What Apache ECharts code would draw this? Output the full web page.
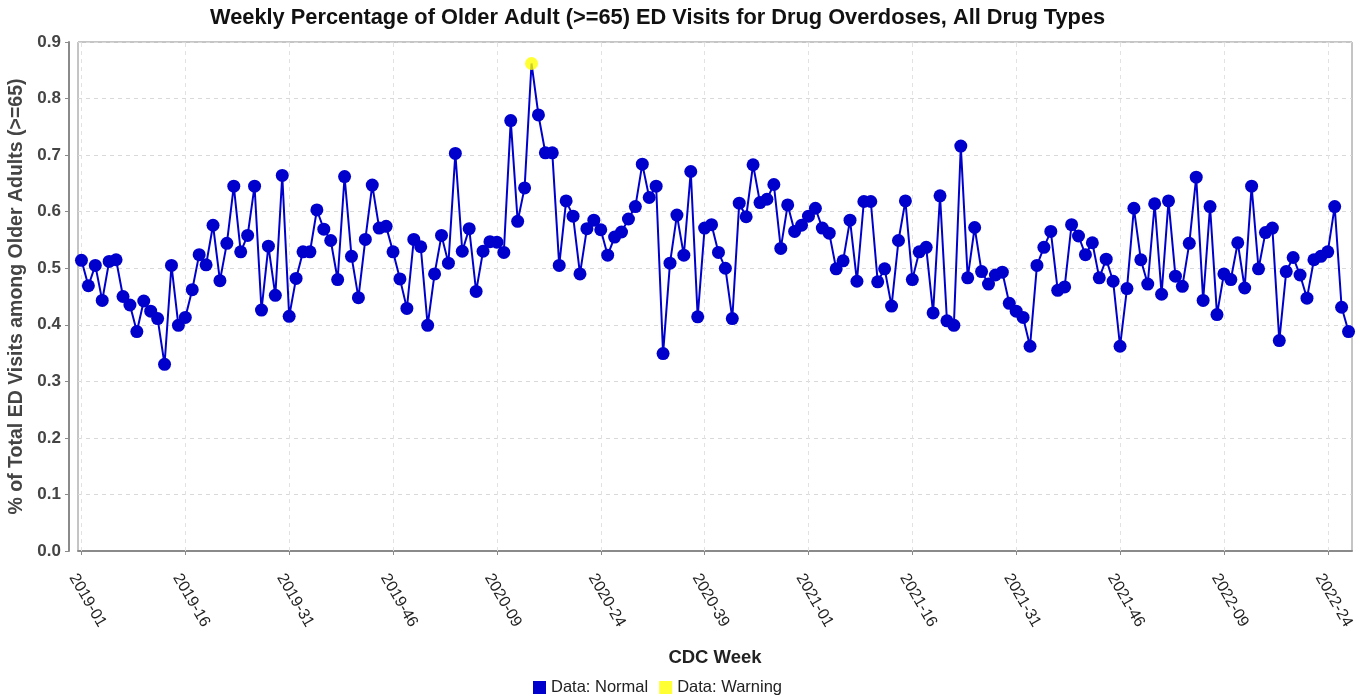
<!DOCTYPE html>
<html>
<head>
<meta charset="utf-8">
<script src="https://cdn.jsdelivr.net/npm/echarts@6/dist/echarts.min.js"></script>
<style>
  html, body { margin: 0; padding: 0; background: #ffffff; }
  #chart { width: 1366px; height: 698px; }
</style>
</head>
<body>
<div id="chart"></div>
<script>
// CDC weeks shown per year (2022 runs through week 27)
const weeksShown = [[2019, 52], [2020, 53], [2021, 52], [2022, 27]];

// Weekly % of ED visits among adults 65+ for drug overdoses (all drug types)
const values2019 = [
  0.514, 0.469, 0.505, 0.443, 0.512, 0.515, 0.450, 0.435, 0.388, 0.442,
  0.424, 0.411, 0.330, 0.505, 0.399, 0.413, 0.462, 0.524, 0.506, 0.576,
  0.478, 0.544, 0.645, 0.529, 0.558, 0.645, 0.426, 0.539, 0.452, 0.664,
  0.415, 0.482, 0.529, 0.529, 0.603, 0.569, 0.549, 0.480, 0.662, 0.521,
  0.448, 0.551, 0.647, 0.571, 0.574, 0.529, 0.481, 0.429, 0.551, 0.538,
  0.399, 0.490
];
const values2020 = [
  0.558, 0.509, 0.703, 0.530, 0.570, 0.459, 0.530, 0.547, 0.546, 0.528,
  0.761, 0.583, 0.642, 0.862, 0.771, 0.704, 0.704, 0.505, 0.619, 0.592,
  0.490, 0.570, 0.585, 0.568, 0.523, 0.555, 0.564, 0.587, 0.609, 0.684,
  0.625, 0.645, 0.349, 0.509, 0.594, 0.523, 0.671, 0.414, 0.571, 0.577,
  0.528, 0.500, 0.411, 0.615, 0.591, 0.683, 0.616, 0.622, 0.648, 0.535,
  0.612, 0.565, 0.576
];
const values2021 = [
  0.592, 0.606, 0.571, 0.562, 0.499, 0.513, 0.585, 0.477, 0.618, 0.618,
  0.476, 0.499, 0.433, 0.549, 0.619, 0.480, 0.529, 0.537, 0.421, 0.628,
  0.407, 0.399, 0.716, 0.483, 0.572, 0.494, 0.472, 0.488, 0.493, 0.438,
  0.424, 0.413, 0.362, 0.505, 0.537, 0.565, 0.461, 0.467, 0.577, 0.557,
  0.524, 0.545, 0.483, 0.516, 0.477, 0.362, 0.464, 0.606, 0.515, 0.472,
  0.614, 0.454
];
const values2022 = [
  0.619, 0.486, 0.468, 0.544, 0.661, 0.443, 0.609, 0.418, 0.490, 0.480,
  0.545, 0.465, 0.645, 0.499, 0.563, 0.571, 0.372, 0.494, 0.519, 0.488,
  0.447, 0.515, 0.521, 0.529, 0.609, 0.431, 0.388
];

// Weeks flagged as a warning
const warningWeeks = ['2020-14'];

const yTicks = [0, 0.1, 0.2, 0.3, 0.4, 0.5, 0.6, 0.7, 0.8, 0.9];

const categories = [];
weeksShown.forEach(([year, n]) => {
  for (let w = 1; w <= n; w++) categories.push(year + '-' + String(w).padStart(2, '0'));
});
const values = [].concat(values2019, values2020, values2021, values2022);

const normalData = values.map((v, i) =>
  warningWeeks.includes(categories[i]) ? { value: v, symbol: 'none' } : v);
const warningData = values.map((v, i) =>
  warningWeeks.includes(categories[i]) ? v : '-');

const LABEL_STEP = 15;
const gridLines = categories
  .filter((c, i) => i % LABEL_STEP === 0)
  .map(c => ({ xAxis: c }));

const BLUE = '#0000CD';
const YELLOW = '#FFFF00';
const FONT = '"Liberation Sans", Arial, sans-serif';

const chart = echarts.init(document.getElementById('chart'), null, { renderer: 'canvas' });
chart.setOption({
  animation: false,
  backgroundColor: '#ffffff',
  title: {
    text: 'Weekly Percentage of Older Adult (>=65) ED Visits for Drug Overdoses, All Drug Types',
    left: 210,
    top: 7,
    padding: 0,
    textStyle: { fontFamily: FONT, fontSize: 21.8, fontWeight: 'bold', color: '#111111' }
  },
  legend: {
    data: ['Data: Normal', 'Data: Warning'],
    left: 533,
    top: 679,
    padding: 0,
    icon: 'rect',
    itemWidth: 13,
    itemHeight: 13,
    itemGap: 11,
    textStyle: { fontFamily: FONT, fontSize: 16.5, color: '#222222' }
  },
  grid: {
    left: 78, right: 14, top: 42, bottom: 147,
    outerBoundsMode: 'none',
    containLabel: false,
    show: true, borderColor: '#8a8a8a', borderWidth: 1, backgroundColor: '#ffffff'
  },
  xAxis: {
    type: 'category',
    data: categories,
    boundaryGap: true,
    offset: 8,
    name: 'CDC Week',
    nameLocation: 'middle',
    nameGap: 89,
    nameTextStyle: { fontFamily: FONT, fontSize: 18.5, fontWeight: 'bold', color: '#222222' },
    axisLine: { show: true, lineStyle: { color: '#8a8a8a', width: 2 } },
    axisTick: { show: true, interval: LABEL_STEP - 1, alignWithLabel: true, length: 4, lineStyle: { color: '#8a8a8a' } },
    axisLabel: {
      interval: LABEL_STEP - 1,
      rotate: -60,
      margin: 11,
      lineHeight: 20,
      // leading blank line drops the rotated week label below its tick
      formatter: v => '\n' + v,
      fontFamily: FONT, fontSize: 16, color: '#222222'
    },
    splitLine: { show: false }
  },
  yAxis: {
    type: 'value',
    min: yTicks[0],
    max: yTicks[yTicks.length - 1],
    interval: 0.1,
    offset: 9,
    name: '% of Total ED Visits among Older Adults (>=65)',
    nameLocation: 'middle',
    nameGap: 39,
    nameTextStyle: { fontFamily: FONT, fontSize: 19.5, fontWeight: 'bold', color: '#444444' },
    axisLine: { show: true, lineStyle: { color: '#8a8a8a', width: 2 } },
    axisTick: { show: true, length: 4, lineStyle: { color: '#8a8a8a' } },
    axisLabel: {
      margin: 8,
      formatter: v => v.toFixed(1),
      fontFamily: FONT, fontSize: 17, fontWeight: 'bold', color: '#444444'
    },
    splitLine: { show: true, lineStyle: { color: '#d9d9d9', type: [4, 4], width: 1 } }
  },
  series: [
    {
      name: 'week grid',
      type: 'line',
      data: [],
      silent: true,
      z: 1,
      markLine: {
        silent: true,
        z: 1,
        symbol: 'none',
        label: { show: false },
        lineStyle: { color: '#e2e2e2', type: [4, 4], width: 1 },
        data: gridLines
      }
    },
    {
      name: 'Data: Normal',
      type: 'line',
      data: normalData,
      z: 3,
      color: BLUE,
      symbol: 'circle',
      symbolSize: 13,
      showAllSymbol: true,
      lineStyle: { color: BLUE, width: 2 },
      itemStyle: { color: BLUE }
    },
    {
      name: 'Data: Warning',
      type: 'scatter',
      data: warningData,
      z: 4,
      color: YELLOW,
      symbol: 'circle',
      symbolSize: 13,
      itemStyle: { color: YELLOW }
    }
  ]
});
</script>
</body>
</html>
